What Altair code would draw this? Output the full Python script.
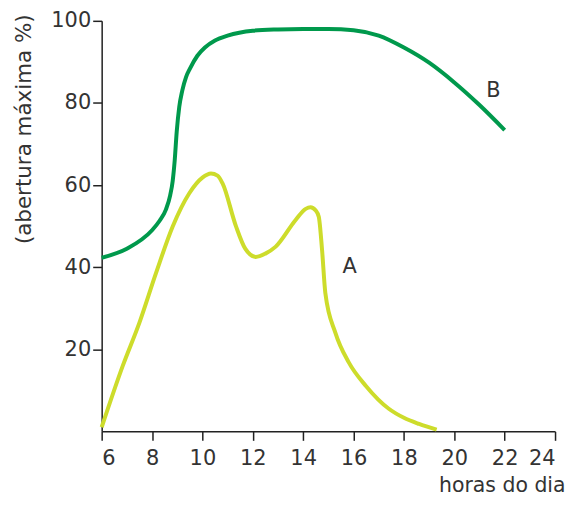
import altair as alt
import pandas as pd

# Curve B (dark green)
hours_B = [6, 7, 8, 8.3, 8.55, 8.72, 8.82, 8.9, 8.98, 9.08, 9.2, 9.35, 9.5, 9.8, 10.1, 10.5, 11, 12, 13, 14, 15, 16, 17, 18, 19, 20, 21, 22]
open_B = [42.3, 44.5, 49, 51.3, 54, 57.5, 61, 66, 73, 79, 83, 86.3, 88.3, 91.5, 93.5, 95.2, 96.4, 97.6, 97.9, 98, 98, 97.7, 96.4, 93.5, 89.8, 85, 79.5, 73.4]

# Curve A (yellow-green)
hours_A = [6, 6.84, 7.5, 8.16, 8.82, 9.48, 10.0, 10.34, 10.6, 10.8, 11.33, 11.7, 12.12, 12.5, 12.91,
           13.7, 14.1, 14.29, 14.5, 14.62, 14.75, 14.88, 15.28, 15.81, 16.5, 17.4, 18, 18.6, 19.3]
open_A = [1, 16, 26.5, 38.6, 49.9, 58, 61.8, 62.8, 62.3, 60.4, 50, 44.5, 42.5, 43.3, 45,
          51.5, 54.2, 54.6, 53.8, 52.3, 44.2, 33.7, 24, 16.8, 11, 5.5, 3.3, 1.8, 0.4]

# Curve labels
label_text = ["A", "B"]
label_x = [15.85, 21.55]
label_y = [40, 83]

x_ticks = [6, 8, 10, 12, 14, 16, 18, 20, 22, 24]
y_ticks = [20, 40, 60, 80, 100]

dfA = pd.DataFrame({"h": hours_A, "v": open_A})
dfB = pd.DataFrame({"h": hours_B, "v": open_B})
dfL = pd.DataFrame({"t": label_text, "h": label_x, "v": label_y})

FONT = "DejaVu Sans"
TXT = "#333333"

xscale = alt.Scale(domain=[6, 24], nice=False, zero=False)
yscale = alt.Scale(domain=[0, 100], nice=False)

xaxis = alt.Axis(values=x_ticks, title="horas do dia", grid=False, labelPadding=7,
                 titleAlign="right", titleAnchor="end", titleX=465, titleY=60,
                 titleBaseline="alphabetic", titleFontSize=20.5)
yaxis = alt.Axis(values=y_ticks, title="(abertura máxima %)", grid=False, labelPadding=2,
                 titleAlign="right", titleAnchor="end", titleX=-71, titleY=-7,
                 titleBaseline="alphabetic", titleAngle=270, titleFontSize=21.5)

lineB = alt.Chart(dfB).mark_line(color="#00994c", strokeWidth=4, interpolate="monotone").encode(
    x=alt.X("h:Q", scale=xscale, axis=xaxis),
    y=alt.Y("v:Q", scale=yscale, axis=yaxis),
)
lineA = alt.Chart(dfA).mark_line(color="#cddc2b", strokeWidth=4, interpolate="monotone").encode(
    x=alt.X("h:Q", scale=xscale),
    y=alt.Y("v:Q", scale=yscale),
)
labels = alt.Chart(dfL).mark_text(font=FONT, fontSize=21, color=TXT, align="center", baseline="middle").encode(
    x=alt.X("h:Q", scale=xscale),
    y=alt.Y("v:Q", scale=yscale),
    text="t:N",
)

chart = alt.layer(lineB, lineA, labels).properties(
    width=455, height=412,
    autosize=alt.AutoSizeParams(type="none"),
    padding={"left": 94, "top": 12, "right": 12, "bottom": 65},
).configure_view(stroke=None).configure_axis(
    domainColor="#222222", domainWidth=1.5, tickColor="#222222", tickWidth=1.5, tickSize=9,
    labelFont=FONT, labelFontSize=21, labelColor=TXT,
    titleFont=FONT, titleFontSize=21, titleColor=TXT, titleFontWeight="normal",
)

chart.save("out.html", embed_options={"renderer": "svg", "actions": False})
